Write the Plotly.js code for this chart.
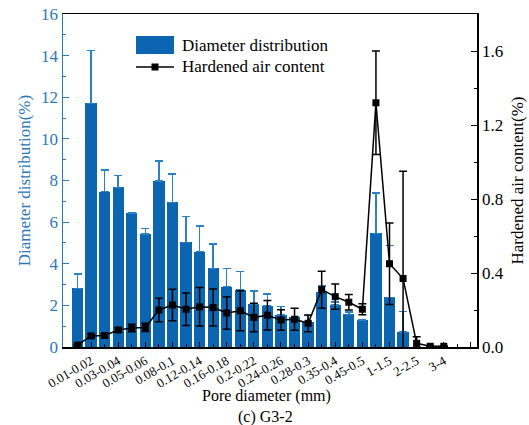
<!DOCTYPE html>
<html>
<head>
<meta charset="utf-8">
<script src="https://cdn.plot.ly/plotly-3.0.1.min.js"></script>
<style>
  html, body { margin: 0; padding: 0; background: #ffffff; }
  #chart { width: 529px; height: 425px; }
</style>
</head>
<body>
<div id="chart"></div>
<script>
// Pore diameter classes (mm)
const categories = [
  "0-0.01", "0.01-0.02", "0.02-0.03", "0.03-0.04", "0.04-0.05", "0.05-0.06",
  "0.06-0.08", "0.08-0.1", "0.1-0.12", "0.12-0.14", "0.14-0.16", "0.16-0.18",
  "0.18-0.2", "0.2-0.22", "0.22-0.24", "0.24-0.26", "0.26-0.28", "0.28-0.3",
  "0.3-0.35", "0.35-0.4", "0.4-0.45", "0.45-0.5", "0.5-1", "1-1.5",
  "1.5-2", "2-2.5", "2.5-3", "3-4"
];

// Diameter distribution (%) and its error (upper)
const diameterDist = [
  2.82, 11.71, 7.46, 7.67, 6.42, 5.43,
  7.98, 6.95, 5.03, 4.58, 3.78, 2.90,
  2.74, 2.05, 1.99, 1.54, 1.46, 1.22,
  2.62, 2.02, 1.57, 1.28, 5.46, 2.38,
  0.72, 0, 0, 0
];
const diameterErr = [
  0.69, 2.53, 1.04, 0.56, 0.05, 0.27,
  0.96, 1.36, 1.23, 1.23, 1.17, 0.88,
  0.88, 0.64, 0.56, 0.40, 0.40, 0.30,
  0.30, 0.15, 0.10, 0.05, 1.95, 2.50,
  0.98, 0, 0, 0
];

// Hardened air content (%) and its error
const airContent = [
  0.010, 0.060, 0.062, 0.092, 0.103, 0.106,
  0.200, 0.227, 0.204, 0.217, 0.213, 0.184,
  0.196, 0.160, 0.172, 0.146, 0.150, 0.128,
  0.310, 0.272, 0.242, 0.204, 1.320, 0.450,
  0.370, 0.020, 0.004, 0.004
];
const airErr = [
  0.005, 0.010, 0.010, 0.012, 0.020, 0.022,
  0.063, 0.085, 0.088, 0.104, 0.100, 0.088,
  0.108, 0.077, 0.080, 0.056, 0.060, 0.045,
  0.100, 0.068, 0.042, 0.030, 0.280, 0.220,
  0.580, 0.035, 0.003, 0.003
];

const seriesNames = ["Diameter distribution", "Hardened air content"];
const xTitle = "Pore diameter (mm)";
const yTitle = "Diameter distribution(%)";
const y2Title = "Hardened air content(%)";
const caption = "(c) G3-2";

const BLUE = "#0b65b0";
const BLUE_TXT = "#2b79b8";
const FONT = "Liberation Serif, Times New Roman, serif";

const xIdx = categories.map((_, i) => i);
const majorVals = [];
const majorText = [];
for (let i = 1; i <= 29; i += 2) {
  majorVals.push(i);
  majorText.push(i < categories.length ? categories[i] : "");
}
const minorVals = [];
for (let i = 0; i <= 29; i += 2) minorVals.push(i);

const traces = [
  {
    type: "bar",
    name: seriesNames[0],
    x: xIdx,
    y: diameterDist,
    width: 0.83,
    marker: { color: BLUE, line: { width: 0 } },
    error_y: {
      type: "data", symmetric: false,
      array: diameterErr, arrayminus: diameterDist.map(() => 0),
      color: "#2a82c6", thickness: 1.5, width: 4
    },
    xaxis: "x", yaxis: "y",
    showlegend: false
  },
  {
    type: "scatter",
    mode: "lines+markers",
    name: seriesNames[1],
    x: xIdx,
    y: airContent,
    line: { color: "#000000", width: 1.5 },
    marker: { symbol: "square", size: 7, color: "#000000" },
    error_y: {
      type: "data", array: airErr, visible: true,
      color: "#000000", thickness: 1.5, width: 4
    },
    xaxis: "x", yaxis: "y2",
    showlegend: false,
    cliponaxis: true
  }
];

// plot area in pixels: x 63..477, y 14..347
const L = 63, R = 477, T = 14, B = 347;
const px = v => (v - L) / (R - L);
const py = v => (B - v) / (B - T);

const layout = {
  width: 529, height: 425,
  margin: { l: L, r: 529 - R, t: T, b: 425 - B, pad: 0 },
  paper_bgcolor: "#ffffff",
  plot_bgcolor: "#ffffff",
  font: { family: FONT, color: "#000000" },
  showlegend: false,
  bargap: 0,
  xaxis: {
    range: [-1.07, 29.45],
    showgrid: false, zeroline: false,
    showline: true, linecolor: "#000000", linewidth: 1.5, mirror: true,
    ticks: "inside", ticklen: 5, tickwidth: 1, tickcolor: "#000000",
    tickmode: "array", tickvals: majorVals, ticktext: majorText,
    tickangle: -30,
    tickfont: { family: FONT, size: 13, color: "#000000" },
    minor: { tickmode: "array", tickvals: minorVals, ticks: "inside", ticklen: 3, tickcolor: "#000000", showgrid: false }
  },
  yaxis: {
    range: [0, 16],
    dtick: 2, tick0: 0,
    showgrid: false, zeroline: false,
    showline: true, linecolor: BLUE_TXT, linewidth: 1.5,
    ticks: "inside", ticklen: 6, tickwidth: 1, tickcolor: BLUE_TXT,
    tickfont: { family: FONT, size: 17, color: BLUE_TXT },
    minor: { dtick: 1, ticks: "inside", ticklen: 3, tickcolor: BLUE_TXT, showgrid: false },
    title: { text: yTitle, font: { family: FONT, size: 17, color: BLUE_TXT }, standoff: 6 }
  },
  yaxis2: {
    overlaying: "y", side: "right",
    range: [0, 1.8],
    dtick: 0.4, tick0: 0, tickformat: ".1f",
    showgrid: false, zeroline: false,
    showline: true, linecolor: "#000000", linewidth: 1.5,
    ticks: "inside", ticklen: 6, tickwidth: 1, tickcolor: "#000000",
    tickfont: { family: FONT, size: 17, color: "#000000" },
    minor: { dtick: 0.2, ticks: "inside", ticklen: 3, tickcolor: "#000000", showgrid: false },
    title: { text: y2Title, font: { family: FONT, size: 17, color: "#000000" }, standoff: 8 }
  },
  shapes: [
    // legend swatch (bars)
    { type: "rect", xref: "paper", yref: "paper",
      x0: px(136), x1: px(174), y0: py(54), y1: py(36),
      fillcolor: BLUE, line: { width: 0 } },
    // legend line
    { type: "line", xref: "paper", yref: "paper",
      x0: px(136), x1: px(174), y0: py(67), y1: py(67),
      line: { color: "#000000", width: 1.5 } },
    // legend marker
    { type: "rect", xref: "paper", yref: "paper",
      x0: px(151.5), x1: px(158.5), y0: py(70.5), y1: py(63.5),
      fillcolor: "#000000", line: { width: 0 } }
  ],
  annotations: [
    { xref: "paper", yref: "paper", x: px(180), y: py(45), xanchor: "left", yanchor: "middle",
      text: seriesNames[0], showarrow: false, font: { family: FONT, size: 17, color: "#000000" } },
    { xref: "paper", yref: "paper", x: px(180), y: py(67), xanchor: "left", yanchor: "middle",
      text: seriesNames[1], showarrow: false, font: { family: FONT, size: 17, color: "#000000" } },
    // x-axis title
    { xref: "paper", yref: "paper", x: px(266), y: py(396), xanchor: "center", yanchor: "middle",
      text: xTitle, showarrow: false, font: { family: FONT, size: 16, color: "#000000" } },
    { xref: "paper", yref: "paper", x: px(265), y: py(417), xanchor: "center", yanchor: "middle",
      text: caption, showarrow: false, font: { family: FONT, size: 16, color: "#000000" } }
  ]
};

Plotly.newPlot("chart", traces, layout, { staticPlot: true, displayModeBar: false });
</script>
</body>
</html>
